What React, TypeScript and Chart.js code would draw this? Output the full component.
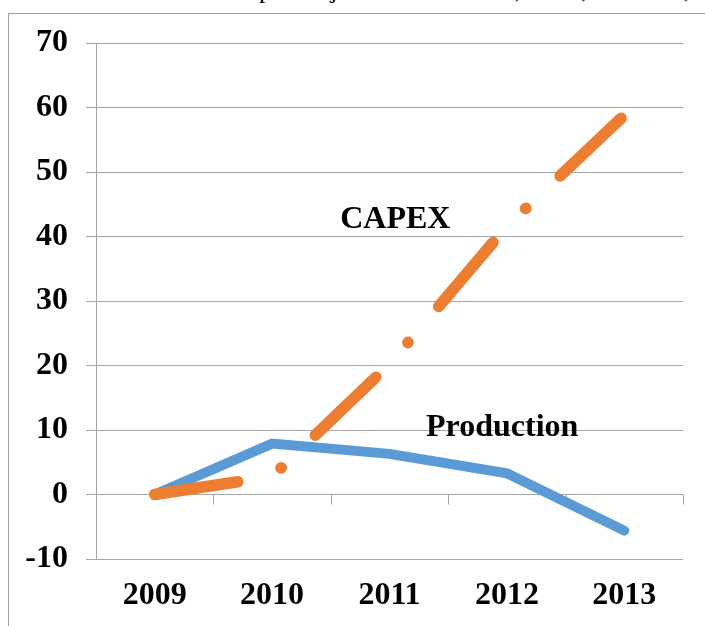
import React, { useEffect, useRef } from "react";
import { Chart, registerables } from "chart.js";

Chart.register(...registerables);

const years: string[] = ["2009", "2010", "2011", "2012", "2013"];
const production: number[] = [0, 7.9, 6.3, 3.3, -5.6];
const capex: number[] = [0, 2.8, 20.2, 41.6, 58.8];
const yTickValues: number[] = [-10, 0, 10, 20, 30, 40, 50, 60, 70];
const seriesNames: string[] = ["CAPEX", "Production"];
const labelX: number[] = [2.05, 2.96];
const labelY: number[] = [42.6, 10.4];
const captionText = "super majors: ExxonMobil, Shell, Chevron, BP";

const FONT = "'Liberation Serif', 'Times New Roman', serif";
const GRID = "#a6a6a6";

const App: React.FC = () => {
  const ref = useRef<HTMLCanvasElement | null>(null);

  useEffect(() => {
    if (!ref.current) return;

    const extras = {
      id: "extras",
      beforeDatasetsDraw(chart: any) {
        const { ctx } = chart;
        const xs = chart.scales.x;
        const ys = chart.scales.y;
        const y0 = ys.getPixelForValue(0);
        const n = years.length;
        ctx.save();
        ctx.strokeStyle = GRID;
        ctx.lineWidth = 1;
        for (let i = 1; i <= n; i++) {
          const x = Math.round(xs.left + ((xs.right - xs.left) * i) / n) + 0.5;
          ctx.beginPath();
          ctx.moveTo(x, y0);
          ctx.lineTo(x, y0 + 10);
          ctx.stroke();
        }
        ctx.restore();
      },
      afterDatasetsDraw(chart: any) {
        const { ctx } = chart;
        const xs = chart.scales.x;
        const ys = chart.scales.y;
        ctx.save();
        ctx.fillStyle = "#000";
        ctx.font = `bold 32px ${FONT}`;
        ctx.textAlign = "center";
        ctx.textBaseline = "middle";
        for (let i = 0; i < seriesNames.length; i++) {
          ctx.fillText(seriesNames[i], xs.getPixelForValue(labelX[i]), ys.getPixelForValue(labelY[i]));
        }
        ctx.restore();
      },
    };

    const chart = new Chart(ref.current, {
      type: "line",
      data: {
        labels: years,
        datasets: [
          {
            label: seriesNames[0],
            data: capex,
            borderColor: "#ED7D31",
            backgroundColor: "#ED7D31",
            borderWidth: 11.5,
            borderCapStyle: "round",
            borderJoinStyle: "round",
            borderDash: [84, 47, 0.5, 47],
            pointRadius: 0,
            tension: 0,
            fill: false,
          },
          {
            label: seriesNames[1],
            data: production,
            borderColor: "#5B9BD5",
            backgroundColor: "#5B9BD5",
            borderWidth: 10,
            borderCapStyle: "round",
            borderJoinStyle: "miter",
            pointRadius: 0,
            tension: 0,
            fill: false,
          },
        ],
      },
      options: {
        responsive: false,
        animation: false,
        layout: { padding: { left: 0, right: 22, top: 43, bottom: 0 } },
        plugins: {
          legend: { display: false },
          tooltip: { enabled: false },
          title: { display: false },
        },
        scales: {
          x: {
            type: "category",
            offset: true,
            grid: { display: false, drawTicks: false },
            border: { display: false },
            ticks: {
              color: "#000",
              padding: 18,
              maxRotation: 0,
              font: { family: FONT, size: 32, weight: "bold" },
            },
            afterFit: (s: any) => {
              s.height = 67;
            },
          },
          y: {
            min: -10,
            max: 70,
            afterBuildTicks: (s: any) => {
              s.ticks = yTickValues.map((v) => ({ value: v }));
            },
            grid: { color: GRID, lineWidth: 1, drawTicks: true, tickLength: 10 },
            border: { display: true, color: GRID, width: 1 },
            ticks: {
              color: "#000",
              padding: 18,
              font: { family: FONT, size: 32, weight: "bold" },
            },
            afterFit: (s: any) => {
              s.width = 96;
            },
          },
        },
      },
      plugins: [extras],
    } as any);

    return () => chart.destroy();
  }, []);

  return (
    <div
      style={{
        position: "fixed",
        left: 0,
        top: 0,
        width: 705,
        height: 626,
        overflow: "hidden",
        background: "#fff",
      }}
    >
      <div
        style={{
          position: "absolute",
          left: 236,
          top: -22,
          fontFamily: FONT,
          fontSize: 26,
          lineHeight: "24px",
          whiteSpace: "nowrap",
          color: "#000",
        }}
      >
        {captionText}
      </div>
      <div
        style={{
          position: "absolute",
          left: 8,
          top: 13,
          width: 760,
          height: 700,
          border: "1px solid #a0a0a0",
          boxSizing: "border-box",
        }}
      />
      <canvas
        ref={ref}
        width={705}
        height={626}
        style={{ position: "absolute", left: 0, top: 0, width: 705, height: 626 }}
      />
    </div>
  );
};

export default App;
